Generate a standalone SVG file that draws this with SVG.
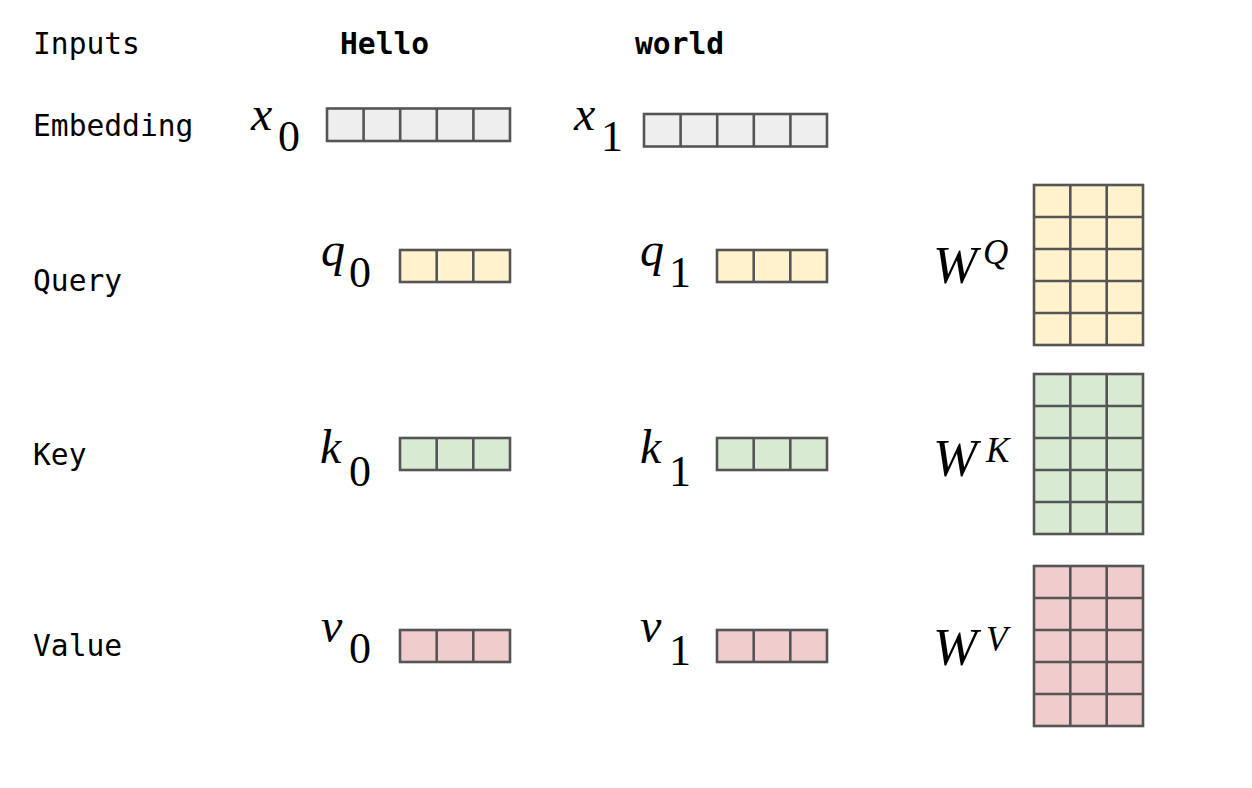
<svg xmlns="http://www.w3.org/2000/svg" width="1252" height="788" viewBox="0 0 1252 788">
<style>
.lbl{font-family:"DejaVu Sans Mono","Liberation Mono",monospace;font-size:29.6px;fill:#000}
.b{font-weight:bold}
.m{font-family:"Liberation Serif","Times New Roman",serif;font-style:italic;font-size:48px;fill:#000}
.s{font-family:"Liberation Serif","Times New Roman",serif;font-size:44px;fill:#000}
.W{font-family:"Liberation Serif","Times New Roman",serif;font-style:italic;font-size:53px;fill:#000}
.sup{font-family:"Liberation Serif","Times New Roman",serif;font-style:italic;font-size:35px;fill:#000}
.c{stroke:#555555;stroke-width:2.6}
.g{fill:#eeeeee}.y{fill:#fff2cc}.gr{fill:#d9ead3}.r{fill:#f0cccc}
.d{fill:none;stroke:#555555;stroke-width:2.6}
</style>
<rect width="1252" height="788" fill="#ffffff"/>
<g id="labels">
<text class="lbl" x="33" y="54">Inputs</text>
<text class="lbl" x="33" y="136">Embedding</text>
<text class="lbl" x="33" y="291">Query</text>
<text class="lbl" x="33" y="465">Key</text>
<text class="lbl" x="33" y="656">Value</text>
<text class="lbl b" x="340" y="54">Hello</text>
<text class="lbl b" x="635" y="54">world</text>
</g>
<g id="x0">
<text class="m" x="251" y="130">x</text><text class="s" x="278" y="151">0</text>
<rect class="c g" x="327" y="108.5" width="183" height="32.5"/>
<path class="d" d="M363.6 108.5V141M400.2 108.5V141M436.8 108.5V141M473.4 108.5V141"/>
</g>
<g id="x1">
<text class="m" x="574" y="130">x</text><text class="s" x="601" y="151">1</text>
<rect class="c g" x="644" y="114" width="183" height="32.5"/>
<path class="d" d="M680.6 114V146.5M717.2 114V146.5M753.8 114V146.5M790.4 114V146.5"/>
</g>
<g id="q0">
<text class="m" x="321" y="266">q</text><text class="s" x="349" y="287">0</text>
<rect class="c y" x="400" y="250" width="110" height="32"/>
<path class="d" d="M436.7 250V282M473.3 250V282"/>
</g>
<g id="q1">
<text class="m" x="640" y="266">q</text><text class="s" x="669" y="287">1</text>
<rect class="c y" x="717" y="250" width="110" height="32"/>
<path class="d" d="M753.7 250V282M790.3 250V282"/>
</g>
<g id="k0">
<text class="m" x="320" y="463">k</text><text class="s" x="349" y="486">0</text>
<rect class="c gr" x="400" y="438" width="110" height="32"/>
<path class="d" d="M436.7 438V470M473.3 438V470"/>
</g>
<g id="k1">
<text class="m" x="640" y="463">k</text><text class="s" x="669" y="486">1</text>
<rect class="c gr" x="717" y="438" width="110" height="32"/>
<path class="d" d="M753.7 438V470M790.3 438V470"/>
</g>
<g id="v0">
<text class="m" x="321" y="642">v</text><text class="s" x="349" y="663">0</text>
<rect class="c r" x="400" y="630" width="110" height="32"/>
<path class="d" d="M436.7 630V662M473.3 630V662"/>
</g>
<g id="v1">
<text class="m" x="640" y="642">v</text><text class="s" x="669" y="665">1</text>
<rect class="c r" x="717" y="630" width="110" height="32"/>
<path class="d" d="M753.7 630V662M790.3 630V662"/>
</g>
<g id="WQ">
<text class="W" x="933" y="283">W</text><text class="sup" x="983" y="264">Q</text>
<rect class="c y" x="1034" y="185" width="109" height="160"/>
<path class="d" d="M1070.3 185V345M1106.7 185V345M1034 217H1143M1034 249H1143M1034 281H1143M1034 313H1143"/>
</g>
<g id="WK">
<text class="W" x="933" y="476">W</text><text class="sup" x="986" y="462">K</text>
<rect class="c gr" x="1034" y="374" width="109" height="160"/>
<path class="d" d="M1070.3 374V534M1106.7 374V534M1034 406H1143M1034 438H1143M1034 470H1143M1034 502H1143"/>
</g>
<g id="WV">
<text class="W" x="933" y="665">W</text><text class="sup" x="986" y="651">V</text>
<rect class="c r" x="1034" y="566" width="109" height="160"/>
<path class="d" d="M1070.3 566V726M1106.7 566V726M1034 598H1143M1034 630H1143M1034 662H1143M1034 694H1143"/>
</g>
<g id="connectors"></g>
</svg>
